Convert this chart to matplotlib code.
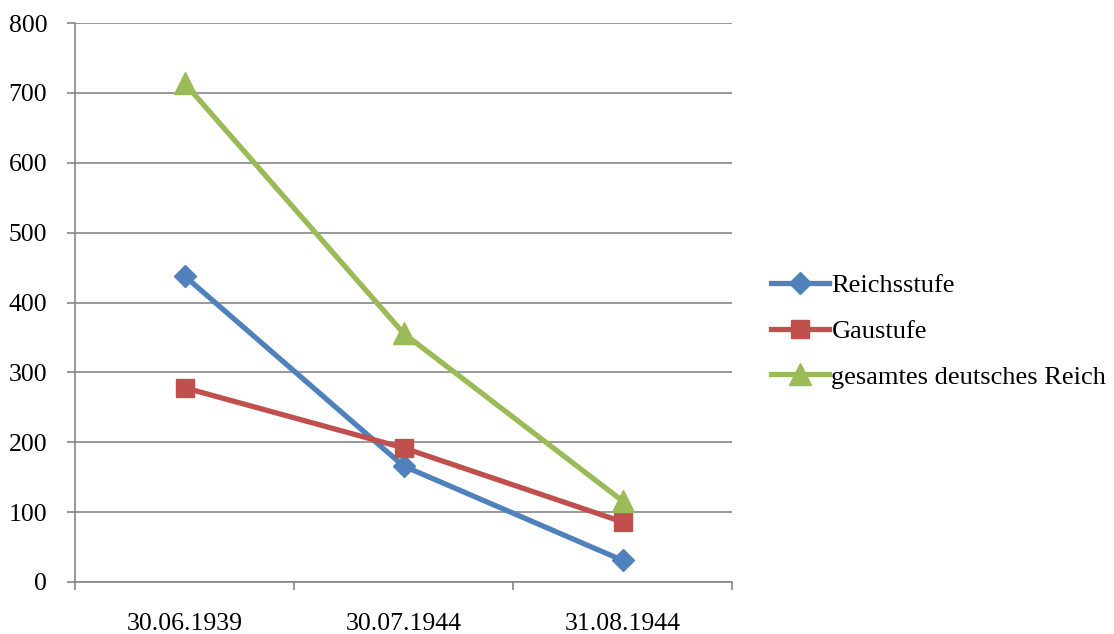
import numpy as np
import matplotlib
matplotlib.use("Agg")
import matplotlib.pyplot as plt
from matplotlib.ticker import FixedLocator

plt.rcParams['font.family'] = ['Liberation Serif', 'DejaVu Serif']

dates = ['30.06.1939', '30.07.1944', '31.08.1944']
reichsstufe = [438, 166, 31]
gaustufe = [278, 192, 86]
gesamt = [714, 356, 116]
y_ticks = [0, 100, 200, 300, 400, 500, 600, 700, 800]

fig = plt.figure(figsize=(11.14, 6.34), dpi=100)
ax = fig.add_axes([75/1114, 1-582/634, (732-75)/1114, (582-23)/634])

x = np.arange(len(dates))
ax.plot(x, reichsstufe, color='#4F81BD', lw=3.8, marker='D', ms=11, label='Reichsstufe')
ax.plot(x, gaustufe, color='#C0504D', lw=3.8, marker='s', ms=13.5, label='Gaustufe')
ax.plot(x, gesamt, color='#9BBB59', lw=3.8, marker='^', ms=16, label='gesamtes deutsches Reich')

grid_c = '#868686'
ax.set_xlim(-0.5, 2.5)
ax.set_ylim(0, 800)
ax.set_yticks(y_ticks)
ax.yaxis.grid(True, color=grid_c, lw=1.2)
ax.set_axisbelow(True)
ax.set_xticks(x)
ax.set_xticklabels(dates)
ax.xaxis.set_minor_locator(FixedLocator([-0.5, 0.5, 1.5, 2.5]))
ax.tick_params(axis='x', which='major', length=0, pad=22, labelsize=18.5)
ax.tick_params(axis='x', which='minor', length=6, color=grid_c, width=1.2)
ax.tick_params(axis='y', length=6, color=grid_c, width=1.2, pad=14, labelsize=18.5)
for s in ['top', 'right']:
    ax.spines[s].set_visible(False)
for s in ['left', 'bottom']:
    ax.spines[s].set_color(grid_c)
    ax.spines[s].set_linewidth(1.2)

fig.legend(loc='center left', bbox_to_anchor=(747/1114, 1-331/634), frameon=False,
           fontsize=19, handlelength=2.2, handletextpad=0.1, labelspacing=0.85)

fig.savefig('out.png', dpi=100)
